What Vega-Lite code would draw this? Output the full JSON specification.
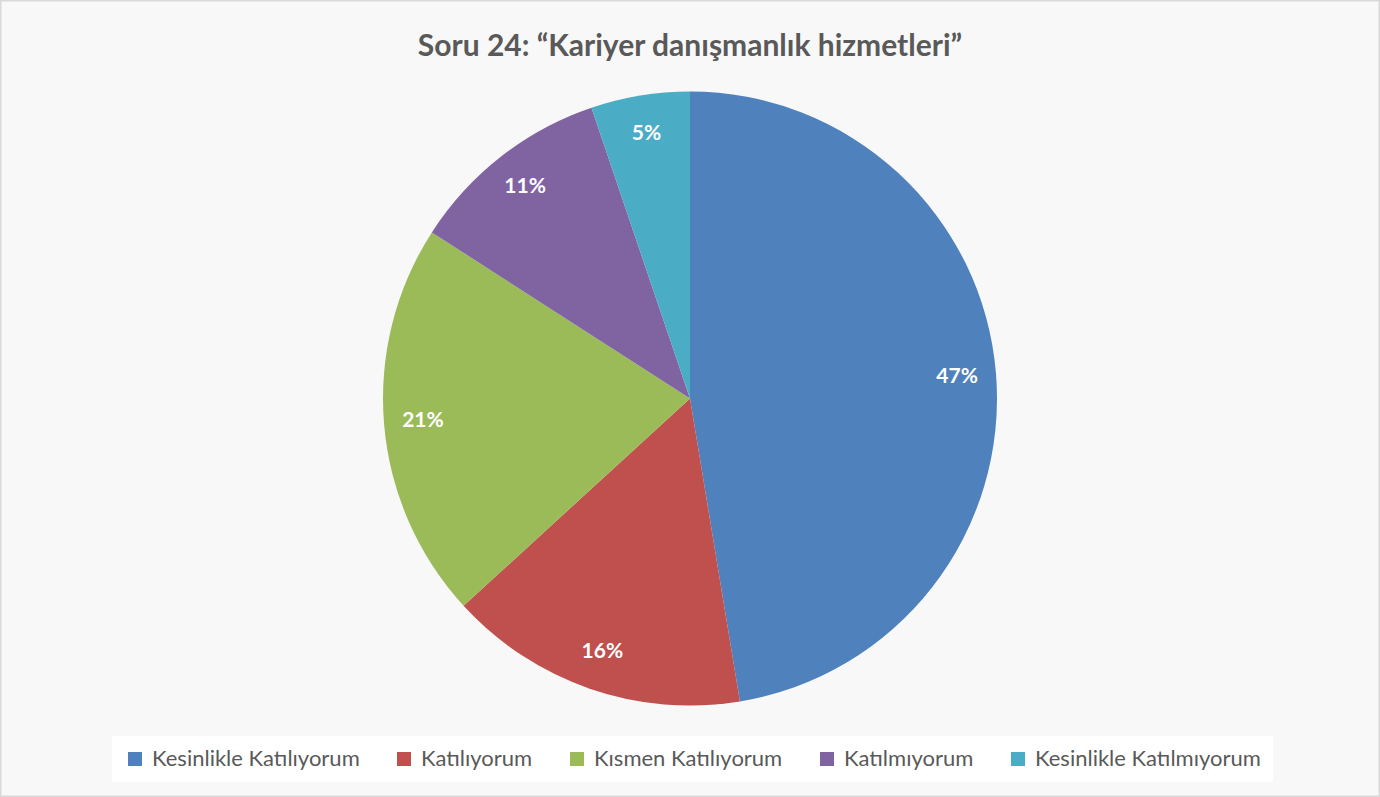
{
  "$schema": "https://vega.github.io/schema/vega-lite/v6.json",
  "width": 1380,
  "height": 797,
  "padding": 0,
  "autosize": {"type": "none"},
  "background": "#f8f8f8",
  "view": {"stroke": "#d9d9d9", "strokeWidth": 3},
  "title": {
    "text": "Soru 24: “Kariyer danışmanlık hizmetleri”",
    "orient": "top",
    "anchor": "middle",
    "offset": -62,
    "font": "Lato",
    "fontSize": 30,
    "fontWeight": "bold",
    "color": "#595959"
  },
  "data": {
    "values": [
      {"idx": 1, "cevap": "Kesinlikle Katılıyorum", "oran": 0.474},
      {"idx": 2, "cevap": "Katılıyorum", "oran": 0.158},
      {"idx": 3, "cevap": "Kısmen Katılıyorum", "oran": 0.209},
      {"idx": 4, "cevap": "Katılmıyorum", "oran": 0.107},
      {"idx": 5, "cevap": "Kesinlikle Katılmıyorum", "oran": 0.052}
    ]
  },
  "encoding": {
    "theta": {"field": "oran", "type": "quantitative", "stack": true},
    "order": {"field": "idx", "type": "quantitative"},
    "color": {
      "field": "cevap",
      "type": "nominal",
      "scale": {
        "domain": ["Kesinlikle Katılıyorum", "Katılıyorum", "Kısmen Katılıyorum", "Katılmıyorum", "Kesinlikle Katılmıyorum"],
        "range": ["#4f81bd", "#c0504d", "#9bbb59", "#8064a2", "#4bacc6"]
      },
      "legend": {
        "title": null,
        "orient": "none",
        "direction": "horizontal",
        "legendX": 112,
        "legendY": 736,
        "symbolType": "square",
        "symbolSize": 196,
        "symbolStrokeWidth": 0,
        "labelOffset": 6,
        "labelFont": "Lato",
        "labelFontSize": 22,
        "labelColor": "#595959",
        "labelLimit": 400,
        "columnPadding": 33,
        "fillColor": "#ffffff",
        "padding": 12
      }
    }
  },
  "layer": [
    {"mark": {"type": "arc", "outerRadius": 307}},
    {
      "mark": {"type": "text", "radius": 268, "font": "Lato", "fontSize": 21, "fontWeight": "bold", "fill": "#ffffff"},
      "encoding": {
        "text": {"field": "oran", "type": "quantitative", "format": ".0%"},
        "color": {"value": "#ffffff"}
      }
    }
  ]
}
